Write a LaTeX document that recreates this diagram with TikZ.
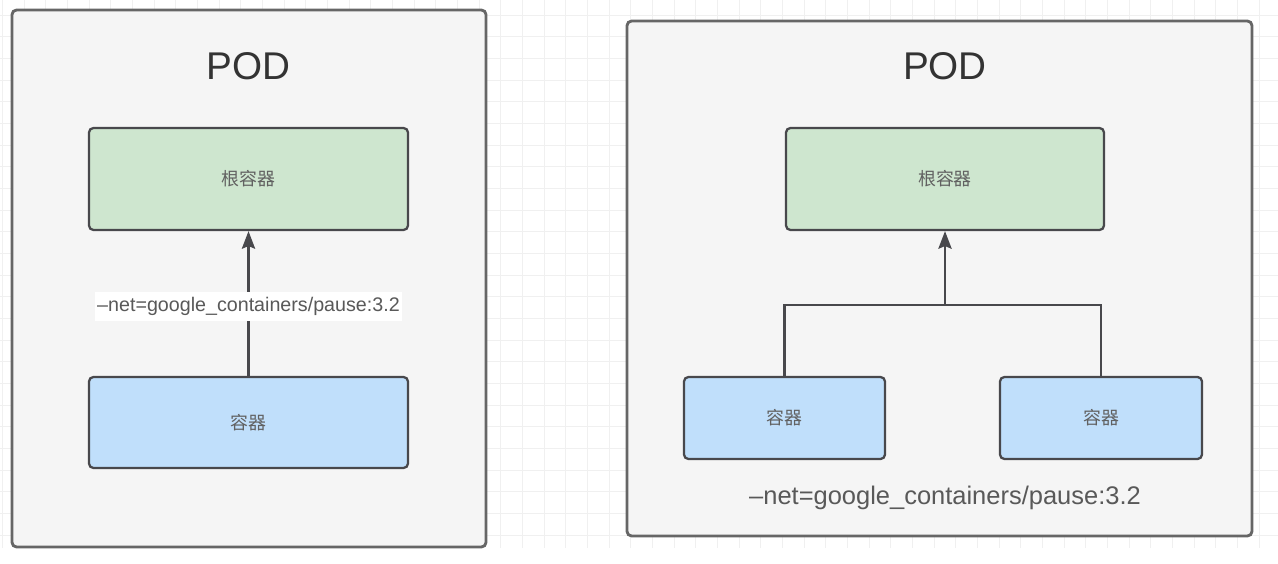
\documentclass[tikz,border=0pt]{standalone}
\usepackage{fontspec}
\setmainfont{Liberation Sans}
\newfontfamily\cjk{Noto Sans CJK SC}
\usetikzlibrary{arrows.meta}
\definecolor{podfill}{RGB}{245,245,245}
\definecolor{rootgreen}{RGB}{206,230,207}
\definecolor{ctrblue}{RGB}{192,223,251}
\definecolor{edgegray}{RGB}{72,72,76}

\begin{document}
\begin{tikzpicture}[x=0.02cm, y=-0.02cm,
    every node/.style={inner sep=0pt},
    gridline/.style={draw=black!6, line width=0.5pt},
    pod/.style={draw=black!60, line width=1.6pt, fill=podfill, rounded corners=2.5pt},
    podtitle/.style={font=\fontsize{22}{26}\selectfont, text=black!80},
    box/.style={draw=edgegray, line width=1.3pt, rounded corners=2.5pt,
        font=\cjk\fontsize{10.2}{12}\selectfont, text=black!62},
    rootbox/.style={box, fill=rootgreen},
    ctrbox/.style={box, fill=ctrblue},
    link/.style={draw=edgegray, line width=1.4pt},
    tip/.style={-{Stealth[length=10pt, width=7.5pt, inset=1.5pt]}}]
    \useasboundingbox (0,0) rectangle (1278,564);
    \foreach \i in {0,...,58} {
        \draw[gridline] ({2.4+21.67*\i},0) -- ({2.4+21.67*\i},548);
    }
    \foreach \j in {0,...,24} {
        \draw[gridline] (0,{15+21.67*\j}) -- (1278,{15+21.67*\j});
    }

    \node[pod, minimum width=9.48cm, minimum height=10.74cm] (lpod) at (249,278.5) {};
    \node[podtitle] (ltitle) at (248.5,66.5) {POD};
    \node[rootbox, minimum width=6.38cm, minimum height=2.04cm] (lroot) at (248.5,179) {根容器};
    \node[ctrbox, minimum width=6.38cm, minimum height=1.82cm] (lctr) at (248.5,422.5) {容器};
    \draw[link, tip] (lctr) -- (lroot)
        node[pos=0.48, fill=white, inner xsep=1pt, inner ysep=3pt, font=\fontsize{11.2}{13}\selectfont,
            text=black!65] (lnet) {–net=google\_containers/pause:3.2};

    \node[pod, minimum width=12.5cm, minimum height=10.3cm] (rpod) at (939.5,278.5) {};
    \node[podtitle] (rtitle) at (945,66) {POD};
    \node[rootbox, minimum width=6.36cm, minimum height=2.04cm] (rroot) at (945,179) {根容器};
    \node[ctrbox, minimum width=4.02cm, minimum height=1.64cm] (rctr1) at (784.5,418) {容器};
    \node[ctrbox, minimum width=4.04cm, minimum height=1.64cm] (rctr2) at (1101,418) {容器};
    \coordinate (rjoin) at (945,305);
    \draw[link] (rctr1.north) |- (rjoin) -| (rctr2.north);
    \draw[link, tip] (rjoin) -- (rroot.south);
    \node[font=\fontsize{14.5}{17}\selectfont, text=black!65] (rnet) at (945,498)
        {–net=google\_containers/pause:3.2};
\end{tikzpicture}
\end{document}
